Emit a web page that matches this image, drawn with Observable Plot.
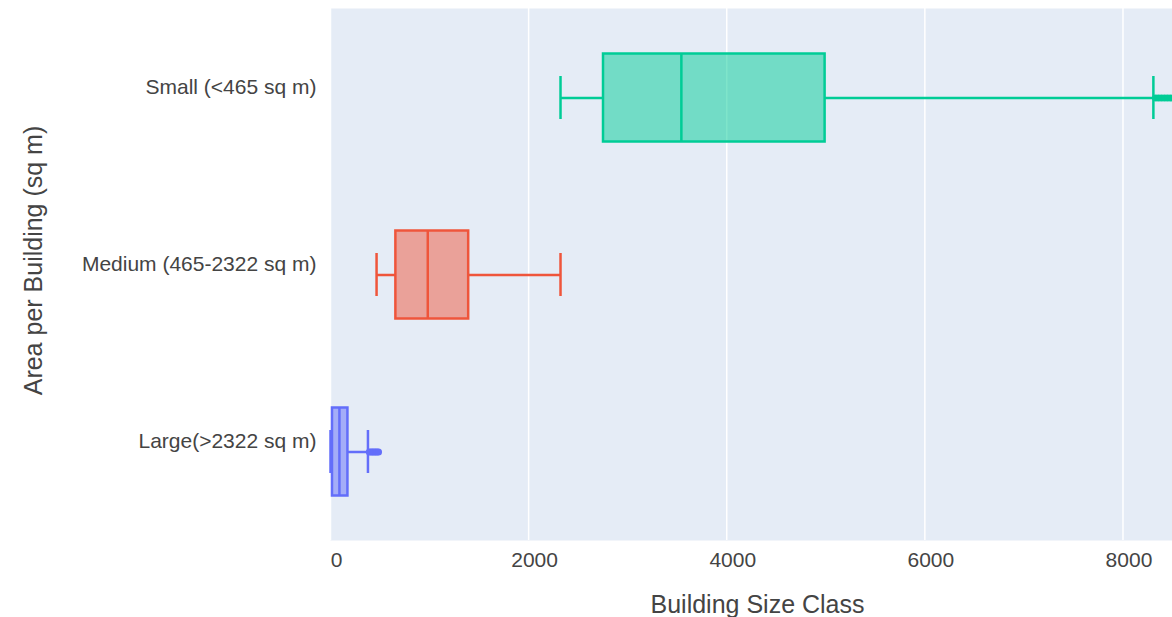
<!DOCTYPE html>
<html>
<head>
<meta charset="utf-8">
<script src="https://cdn.jsdelivr.net/npm/d3@7"></script>
<script src="https://cdn.jsdelivr.net/npm/@observablehq/plot@0.6"></script>
<style>
  html, body { margin: 0; padding: 0; background: #fff; }
</style>
</head>
<body>
<div id="chart"></div>
<script>
const categories = ["Small (<465 sq m)", "Medium (465-2322 sq m)", "Large(>2322 sq m)"];
const lowerWhisker = [2322, 465, 0];
const q1 = [2756, 660, 20];
const median = [3542, 982, 90];
const q3 = [4993, 1395, 176];
const upperWhisker = [8307, 2322, 378];
const outliersSmall = [8330, 8360, 8390, 8420, 8450, 8480, 8510, 8550];
const outliersMedium = [];
const outliersLarge = [392, 410, 425, 440, 455, 470, 485];
const colors = ["#00CC96", "#EF553B", "#636EFA"];
const xTicks = [0, 2000, 4000, 6000, 8000];

const boxes = categories.map((c, i) => ({
  cat: c, lo: lowerWhisker[i], q1: q1[i], med: median[i], q3: q3[i], hi: upperWhisker[i], color: colors[i]
}));
const outliers = [
  ...outliersSmall.map(v => ({cat: categories[0], v, color: colors[0]})),
  ...outliersMedium.map(v => ({cat: categories[1], v, color: colors[1]})),
  ...outliersLarge.map(v => ({cat: categories[2], v, color: colors[2]}))
];

const boxInset = 44.5;
const capInset = 67;
const sw = 2.5;

const chart = Plot.plot({
  width: 1172,
  height: 617,
  marginLeft: 330,
  marginRight: 0,
  marginTop: 8,
  marginBottom: 77,
  style: {fontFamily: "'Liberation Sans', Arial, sans-serif", fontSize: "21px", color: "#444", background: "#fff"},
  x: {domain: [0, 8500], axis: null},
  y: {domain: categories, padding: 0, axis: null},
  color: {type: "identity"},
  marks: [
    Plot.frame({fill: "#E5ECF6", stroke: null}),
    Plot.ruleX(xTicks, {stroke: "white", strokeWidth: 1.5}),
    Plot.ruleY(boxes, {y: "cat", x1: "lo", x2: "q1", stroke: "color", strokeWidth: sw}),
    Plot.ruleY(boxes, {y: "cat", x1: "q3", x2: "hi", stroke: "color", strokeWidth: sw}),
    Plot.tickX(boxes, {y: "cat", x: "lo", stroke: "color", strokeWidth: sw, insetTop: capInset, insetBottom: capInset}),
    Plot.tickX(boxes, {y: "cat", x: "hi", stroke: "color", strokeWidth: sw, insetTop: capInset, insetBottom: capInset}),
    Plot.barX(boxes, {y: "cat", x1: "q1", x2: "q3", fill: "color", fillOpacity: 0.5, stroke: "color", strokeWidth: sw, insetTop: boxInset, insetBottom: boxInset}),
    Plot.tickX(boxes, {y: "cat", x: "med", stroke: "color", strokeWidth: sw, insetTop: boxInset, insetBottom: boxInset}),
    Plot.dot(outliers, {y: "cat", x: "v", r: 3.5, fill: "color", stroke: null, clip: true}),
    Plot.axisX(xTicks, {tickSize: 0, tickPadding: 12, dx: 6, fontSize: 21, fill: "#444", label: null, tickFormat: d => String(d)}),
    Plot.axisY({tickSize: 0, tickPadding: 14, dy: -11, fontSize: 21, fill: "#444", label: null}),
    Plot.text(["Building Size Class"], {frameAnchor: "bottom", dx: 6, dy: 64, lineAnchor: "middle", fontSize: 25, fill: "#444"}),
    Plot.text(["Area per Building (sq m)"], {frameAnchor: "left", dx: -297, dy: -14, rotate: -90, fontSize: 25, fill: "#444", textAnchor: "middle"})
  ]
});
document.getElementById("chart").appendChild(chart);
</script>
</body>
</html>
